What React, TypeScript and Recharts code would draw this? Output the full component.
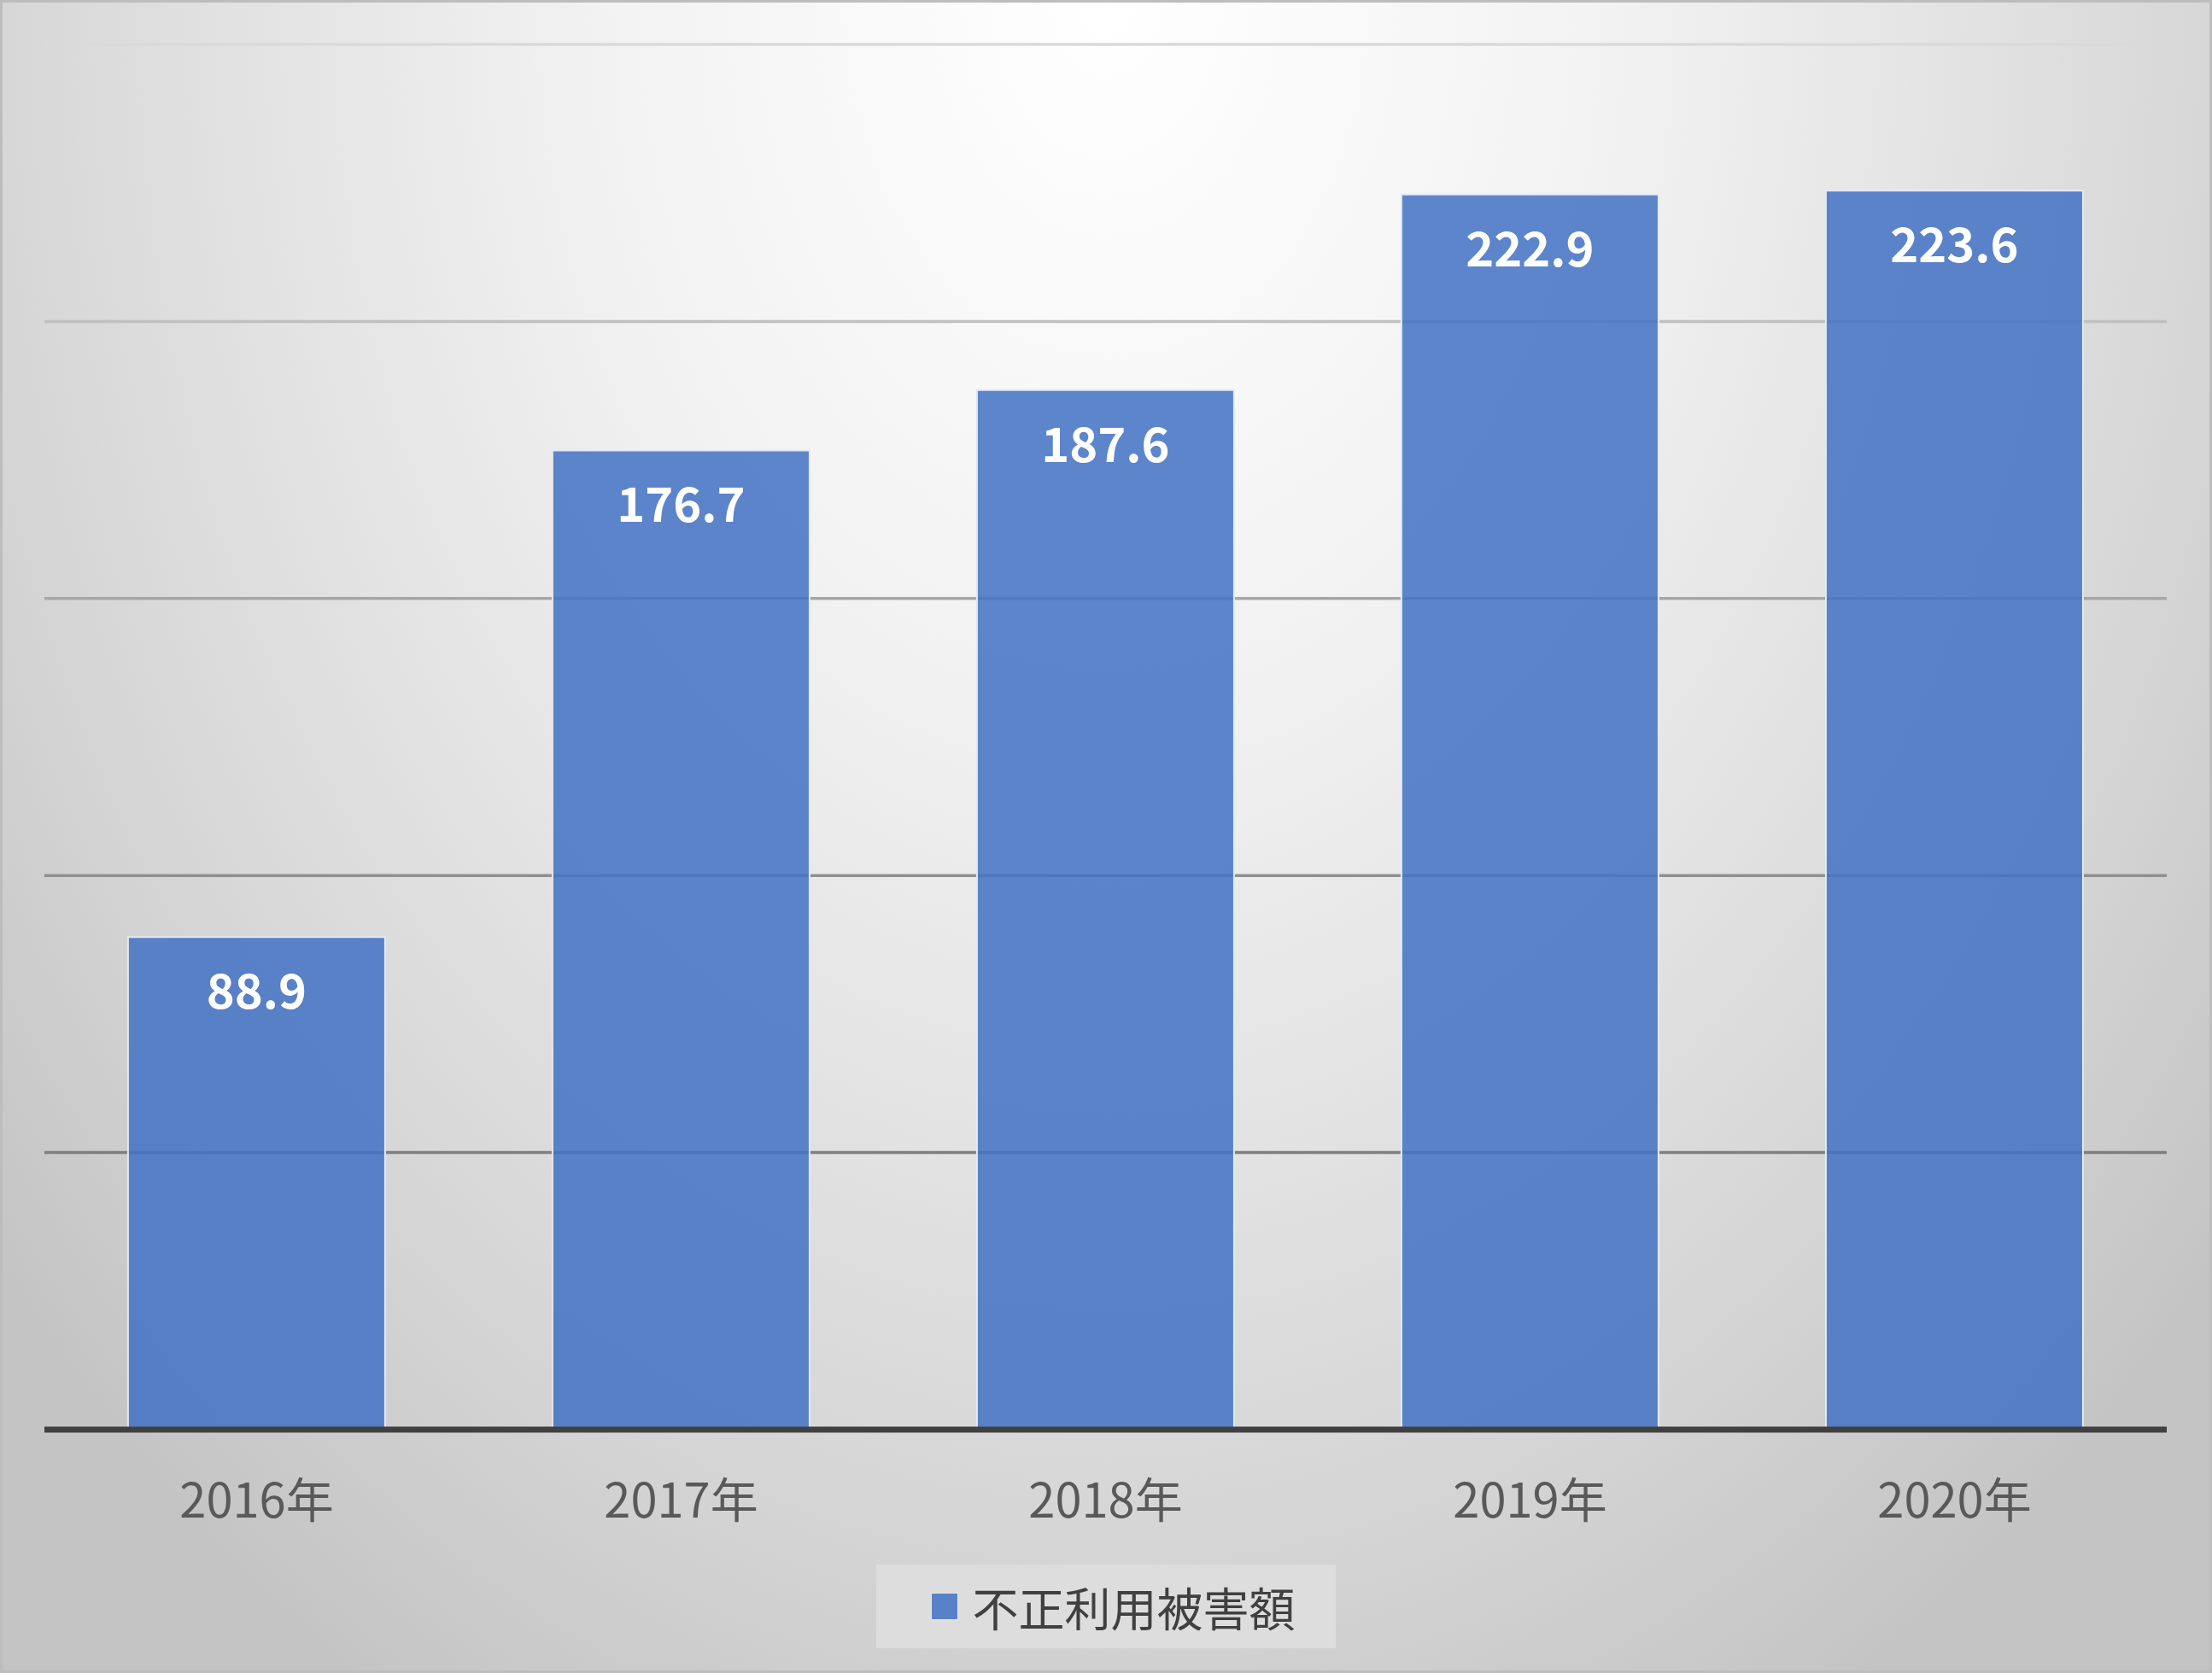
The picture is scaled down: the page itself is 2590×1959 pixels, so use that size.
import { BarChart, Bar, XAxis, YAxis, CartesianGrid, Legend, LabelList } from "recharts";

// 不正利用被害額 (億円) by year
const years = ["2016年", "2017年", "2018年", "2019年", "2020年"];
const damage = [88.9, 176.7, 187.6, 222.9, 223.6];
const yTicks = [0, 50, 100, 150, 200, 250];
const seriesName = "不正利用被害額";

const data = years.map((year, i) => ({ year, value: damage[i] }));

const FONT = "'Noto Sans CJK JP', 'Noto Sans', sans-serif";
const BAR_COLOR = "#4472C4";

function LegendBox(props: any) {
  const { payload } = props;
  return (
    <div style={{ display: "flex", justifyContent: "center" }}>
      <div
        style={{
          height: 98,
          width: 538,
          background: "#dddddd",
          display: "flex",
          alignItems: "center",
          boxSizing: "border-box",
          paddingLeft: 64,
        }}
      >
        {(payload || []).map((p: any) => (
          <div key={p.value} style={{ display: "flex", alignItems: "center" }}>
            <span
              style={{
                width: 30,
                height: 30,
                background: p.color,
                opacity: 0.86,
                border: "1.5px solid #e4e9f3",
                marginRight: 17,
              }}
            />
            <span style={{ fontFamily: FONT, fontSize: 54, color: "#404040" }}>{p.value}</span>
          </div>
        ))}
      </div>
    </div>
  );
}

export default function App() {
  return (
    <div
      style={{
        position: "absolute",
        left: 0,
        top: 0,
        width: 2590,
        height: 1959,
        boxSizing: "border-box",
        border: "3px solid #bdbdbd",
        background:
          "radial-gradient(ellipse 1700px 2300px at 50% 0%, #ffffff 0%, #f2f2f2 35%, #e2e2e2 60%, #d4d4d4 80%, #c4c4c4 100%)",
      }}
    >
      <BarChart
        width={2584}
        height={1953}
        data={data}
        margin={{ top: 49, right: 50, bottom: 26, left: 49 }}
        barCategoryGap="19.7%"
      >
        <defs>
          <linearGradient id="gridGrad" gradientUnits="userSpaceOnUse" x1="0" y1="49" x2="0" y2="1347">
            <stop offset="0%" stopColor="#dadada" />
            <stop offset="25%" stopColor="#c0c0c0" />
            <stop offset="50%" stopColor="#a6a6a6" />
            <stop offset="75%" stopColor="#909090" />
            <stop offset="100%" stopColor="#7f7f7f" />
          </linearGradient>
        </defs>
        <CartesianGrid vertical={false} stroke="url(#gridGrad)" strokeWidth={3.5} />
        <YAxis hide domain={[0, 250]} ticks={yTicks} />
        <XAxis
          dataKey="year"
          height={158}
          axisLine={{ stroke: "#404040", strokeWidth: 7 }}
          tickLine={false}
          tickSize={0}
          tickMargin={63}
          tick={{ fill: "#595959", fontSize: 56, fontFamily: FONT }}
        />
        <Legend content={<LegendBox />} verticalAlign="bottom" />
        <Bar
          dataKey="value"
          name={seriesName}
          fill={BAR_COLOR}
          fillOpacity={0.86}
          stroke="#e4e9f3"
          strokeWidth={2}
          isAnimationActive={false}
        >
          <LabelList
            dataKey="value"
            position="insideTop"
            offset={44}
            fill="#ffffff"
            style={{ fontSize: 56, fontWeight: 700, fontFamily: FONT }}
          />
        </Bar>
      </BarChart>
    </div>
  );
}
